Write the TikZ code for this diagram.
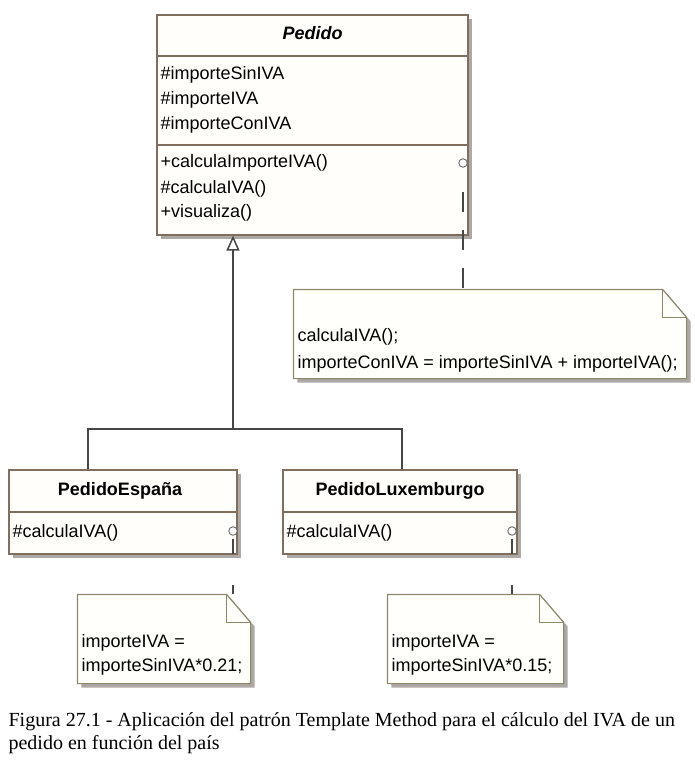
\documentclass[tikz,border=0pt]{standalone}
\usepackage{fontspec}
\setmainfont{Liberation Sans}
\newfontfamily\captionfont{Liberation Serif}
\usetikzlibrary{arrows.meta,shadows}
\definecolor{clsline}{RGB}{128,110,95}
\definecolor{clsfill}{RGB}{255,254,250}
\definecolor{shadowgray}{RGB}{172,168,164}
\definecolor{noteline}{RGB}{140,135,105}
\definecolor{notefill}{RGB}{255,255,251}
\definecolor{conn}{RGB}{70,70,70}
\begin{document}
\begin{tikzpicture}[x=1pt,y=-1pt,line width=1.2pt,
 cls/.style={draw=clsline,fill=clsfill,inner sep=0pt,drop shadow={shadow xshift=4pt,shadow yshift=-4pt,fill=shadowgray,opacity=1}},
 notebox/.style={inner sep=0pt},
 txt/.style={inner sep=0pt,anchor=west,font=\fontsize{18}{21}\selectfont,text height=13pt,text depth=4pt},
 head/.style={inner sep=0pt,font=\bfseries\fontsize{18}{21}\selectfont},
 port/.style={circle,draw=conn!80,fill=white,line width=.9pt,minimum size=8.5pt,inner sep=0pt},
 link/.style={draw=conn,line width=1.3pt,dash pattern=on 20pt off 18pt,dash phase=20pt},
 gen/.style={draw=conn,line width=1.5pt}]
\useasboundingbox (0,0) rectangle (695,760);
\node[cls,minimum width=311pt,minimum height=220pt] (pedido) at (312.5,125) {};
\draw[clsline] (157,56)--(468,56);\draw[clsline] (157,145)--(468,145);
\node[head,font=\bfseries\itshape\fontsize{18}{21}\selectfont] (pedidoname) at (312.5,33) {Pedido};
\node[txt] (a1) at (160,75) {\#importeSinIVA};\node[txt] (a2) at (160,100) {\#importeIVA};\node[txt] (a3) at (160,125) {\#importeConIVA};
\node[txt] (m1) at (160,163) {+calculaImporteIVA()};\node[txt] (m2) at (160,189) {\#calculaIVA()};\node[txt] (m3) at (160,213) {+visualiza()};
\node[cls,minimum width=228pt,minimum height=84pt] (espana) at (123,512) {};
\draw[clsline] (9,512)--(237,512);
\node[head] (espananame) at (120,491) {PedidoEspaña};
\node[txt] (em) at (12,533) {\#calculaIVA()};
\node[cls,minimum width=234pt,minimum height=84pt] (lux) at (400,512) {};
\draw[clsline] (283,512)--(517,512);
\node[head] (luxname) at (400,491) {PedidoLuxemburgo};
\node[txt] (lm) at (286,533) {\#calculaIVA()};
\coordinate (top) at (233,429);\coordinate (barL) at (88,429);\coordinate (barR) at (402,429);
\draw[gen] (barL |- espana.north)--(barL)--(barR)--(barR |- lux.north);
\draw[gen,-{Triangle[fill=white,length=15pt,width=13pt]}] (top)--(top |- pedido.south);
\node[notebox,minimum width=392pt,minimum height=88pt] (n1) at (490,334) {};
\fill[shadowgray,transform canvas={shift={(4pt,-4pt)}}] (n1.north west)--([xshift=-24pt]n1.north east)--([yshift=-28pt]n1.north east)--(n1.south east)--(n1.south west)--cycle;
\draw[noteline,fill=notefill] (n1.north west)--([xshift=-24pt]n1.north east)--([yshift=-28pt]n1.north east)--(n1.south east)--(n1.south west)--cycle;
\draw[noteline] ([xshift=-24pt]n1.north east) |- ([yshift=-28pt]n1.north east);
\node[txt] (n1a) at (297,337) {calculaIVA();};\node[txt] (n1b) at (297,364) {importeConIVA = importeSinIVA + importeIVA();};
\node[notebox,minimum width=172pt,minimum height=88pt] (n2) at (164,639) {};
\fill[shadowgray,transform canvas={shift={(4pt,-4pt)}}] (n2.north west)--([xshift=-24pt]n2.north east)--([yshift=-28pt]n2.north east)--(n2.south east)--(n2.south west)--cycle;
\draw[noteline,fill=notefill] (n2.north west)--([xshift=-24pt]n2.north east)--([yshift=-28pt]n2.north east)--(n2.south east)--(n2.south west)--cycle;
\draw[noteline] ([xshift=-24pt]n2.north east) |- ([yshift=-28pt]n2.north east);
\node[txt] (n2a) at (81,643) {importeIVA =};\node[txt] (n2b) at (81,667) {importeSinIVA*0.21;};
\node[notebox,minimum width=175pt,minimum height=88pt] (n3) at (475.5,639) {};
\fill[shadowgray,transform canvas={shift={(4pt,-4pt)}}] (n3.north west)--([xshift=-24pt]n3.north east)--([yshift=-28pt]n3.north east)--(n3.south east)--(n3.south west)--cycle;
\draw[noteline,fill=notefill] (n3.north west)--([xshift=-24pt]n3.north east)--([yshift=-28pt]n3.north east)--(n3.south east)--(n3.south west)--cycle;
\draw[noteline] ([xshift=-24pt]n3.north east) |- ([yshift=-28pt]n3.north east);
\node[txt] (n3a) at (391,643) {importeIVA =};\node[txt] (n3b) at (391,667) {importeSinIVA*0.15;};
\node[port] (p1) at (463,163) {};\node[port] (p2) at (233,531) {};\node[port] (p3) at (512,531) {};
\draw[link,shorten <=6pt] (p1.south)--(p1.south |- n1.north);
\draw[link,dash pattern=on 15pt off 31pt,dash phase=0pt,shorten <=3pt] (p2.south)--(p2.south |- n2.north);
\draw[link,dash pattern=on 15pt off 31pt,dash phase=0pt,shorten <=3pt] (p3.south)--(p3.south |- n3.north);
\node[anchor=west,inner sep=0pt,font=\captionfont\fontsize{20}{23}\selectfont] (cap1) at (8,722) {Figura 27.1 - Aplicación del patrón Template Method para el cálculo del IVA de un};
\node[anchor=west,inner sep=0pt,font=\captionfont\fontsize{20}{23}\selectfont] (cap2) at (8,745) {pedido en función del país};
\end{tikzpicture}
\end{document}
